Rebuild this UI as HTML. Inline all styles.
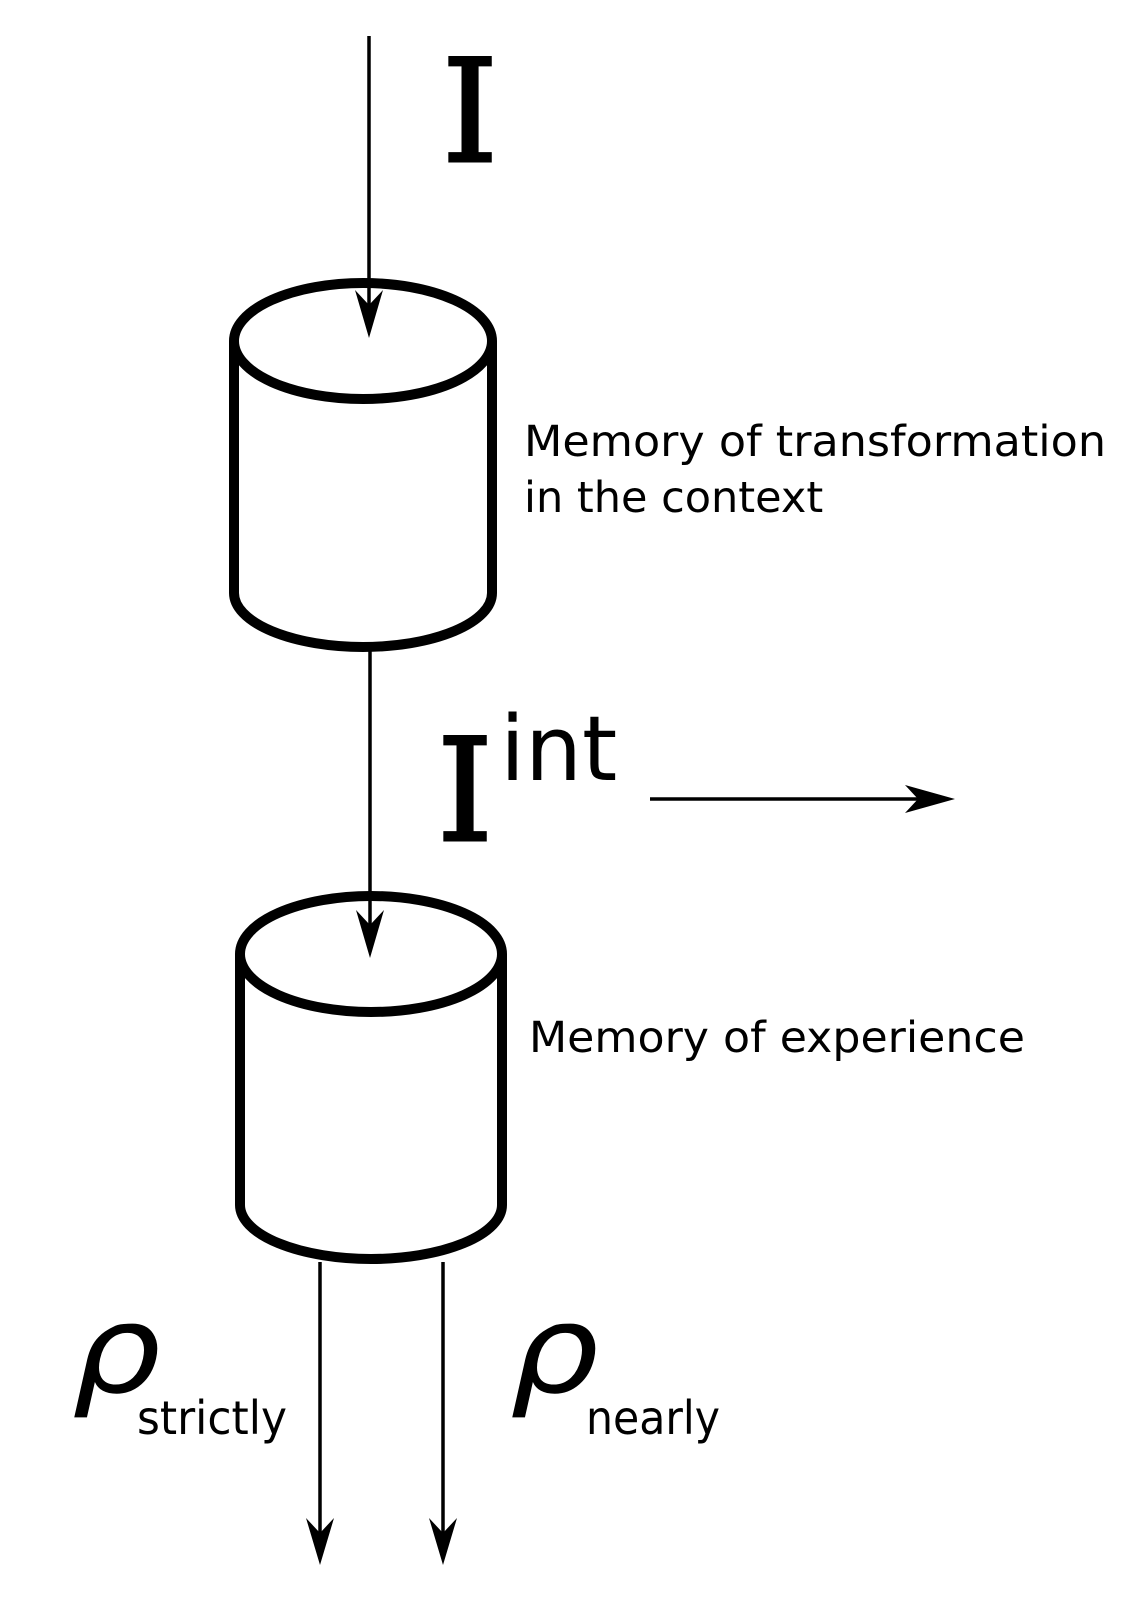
<!DOCTYPE html>
<html><head><meta charset="utf-8"><style>html,body{margin:0;padding:0;background:#fff}svg{display:block}</style></head>
<body>
<svg width="1137" height="1600" viewBox="0 0 1137 1600" xmlns="http://www.w3.org/2000/svg">
<g fill="none" stroke="#000">
<line x1="369" y1="36" x2="369" y2="320" stroke-width="3.5"/>
<path d="M234 341 V593 A129 54 0 0 0 492 593 V341" stroke-width="10" fill="#fff"/>
<ellipse cx="363" cy="341" rx="129" ry="58" stroke-width="10" fill="#fff"/>
<line x1="369" y1="284" x2="369" y2="320" stroke-width="3.5"/>
<line x1="370" y1="648" x2="370" y2="940" stroke-width="3.5"/>
<path d="M240 954 V1205 A131 54 0 0 0 502 1205 V954" stroke-width="10" fill="#fff"/>
<ellipse cx="371" cy="954" rx="131" ry="58" stroke-width="10" fill="#fff"/>
<line x1="370" y1="896" x2="370" y2="940" stroke-width="3.5"/>
<line x1="650" y1="799" x2="940" y2="799" stroke-width="3.5"/>
<line x1="320" y1="1262" x2="320" y2="1545" stroke-width="3.5"/>
<line x1="443" y1="1262" x2="443" y2="1545" stroke-width="3.5"/>
</g>
<g fill="#000">
<path d="M369 338 L355 290 L369 305 L383 290 Z"/>
<path d="M370 958 L356 910 L370 925 L384 910 Z"/>
<path d="M955 799 L905 785 L918 799 L905 813 Z"/>
<path d="M320 1565 L306 1518 L320 1533 L334 1518 Z"/>
<path d="M443 1565 L429 1518 L443 1533 L457 1518 Z"/>
</g>
<g font-family="'DejaVu Sans','Liberation Sans',sans-serif" fill="#000">
<text x="442" y="161" font-family="'DejaVu Serif','Liberation Serif',serif" font-size="142" stroke="#000" stroke-width="3">I</text>
<text x="524" y="456" font-size="43" textLength="582" lengthAdjust="spacingAndGlyphs">Memory of transformation</text>
<text x="524" y="512" font-size="43">in the context</text>
<text x="437" y="840" font-family="'DejaVu Serif','Liberation Serif',serif" font-size="142" stroke="#000" stroke-width="3">I</text>
<text x="500" y="780" font-size="90">int</text>
<text x="529" y="1052" font-size="43" textLength="496" lengthAdjust="spacingAndGlyphs">Memory of experience</text>
<text transform="translate(72 1392) scale(1.15 1)" x="0" y="0" font-size="122" font-style="italic">ρ</text>
<text x="137" y="1434" font-size="46" textLength="150" lengthAdjust="spacingAndGlyphs">strictly</text>
<text transform="translate(510 1392) scale(1.15 1)" x="0" y="0" font-size="122" font-style="italic">ρ</text>
<text x="586" y="1434" font-size="46" textLength="134" lengthAdjust="spacingAndGlyphs">nearly</text>
</g>
</svg>
</body></html>
